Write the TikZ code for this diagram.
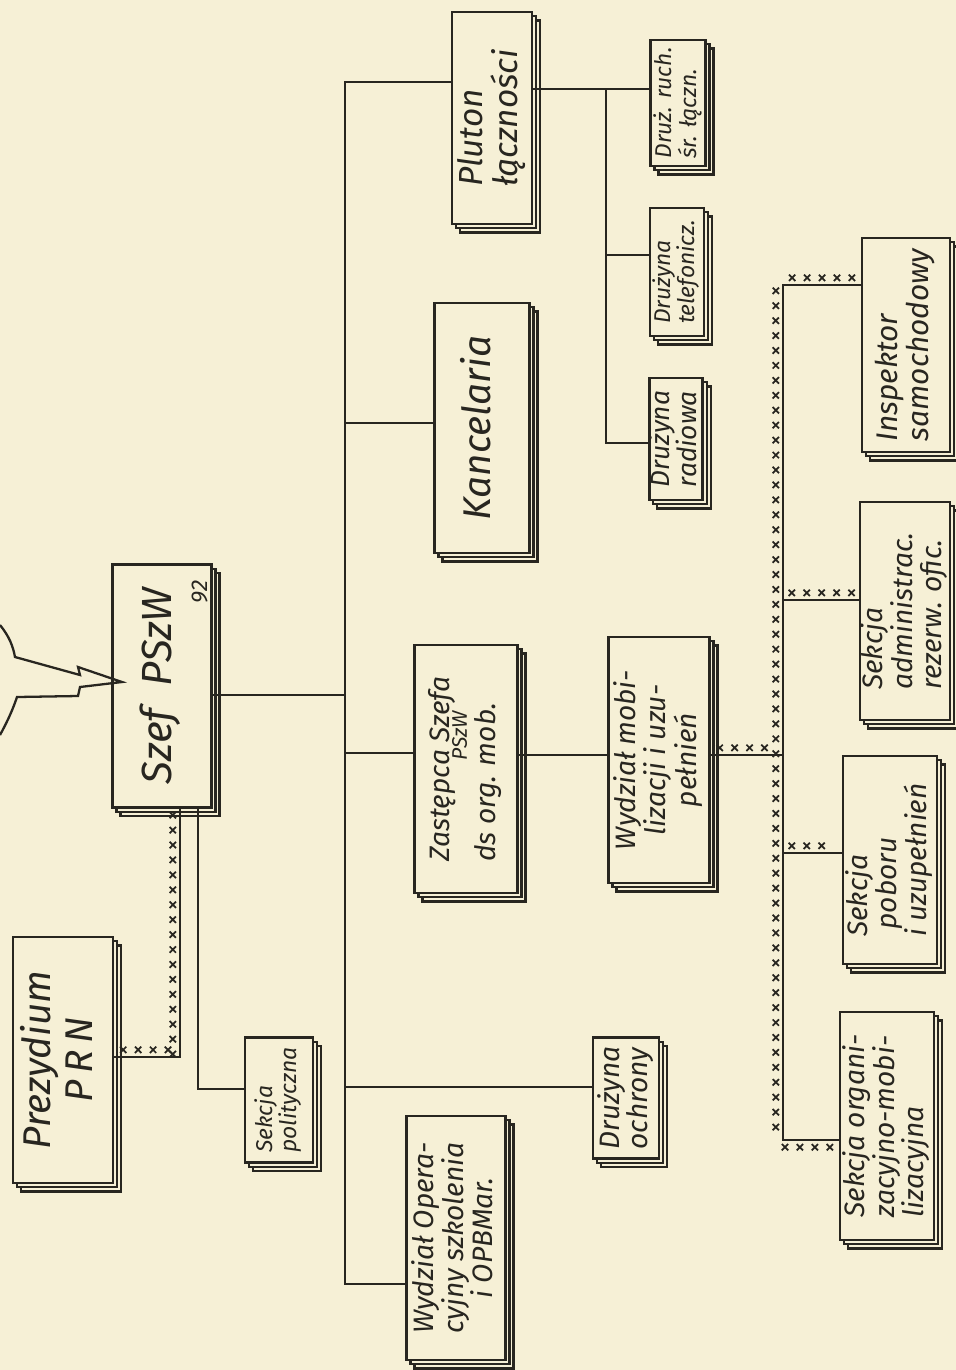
\documentclass[tikz,border=0pt]{standalone}
\usepackage{fontspec}
\setmainfont{Fira Sans}
\usetikzlibrary{shadows,decorations.markings}
\definecolor{paper}{RGB}{246,240,214}
\definecolor{ink}{RGB}{40,38,32}
\newcommand{\vlab}[2][c]{\rotatebox{90}{\begin{tabular}{@{}#1@{}}#2\end{tabular}}}

\begin{document}
\begin{tikzpicture}[x=0.02cm, y=-0.02cm, line width=1.6pt, color=ink,
    unit/.style 2 args={draw, fill=paper, inner sep=0pt,
        minimum width=#1*0.02cm, minimum height=#2*0.02cm,
        copy shadow={shadow xshift=0.16cm, shadow yshift=-0.17cm, fill=paper, draw=ink, line width=1.3pt},
        copy shadow={shadow xshift=0.08cm, shadow yshift=-0.085cm, fill=paper, draw=ink, line width=1.2pt}},
    big/.style={font=\itshape\fontsize{22}{24}\selectfont},
    mid/.style={font=\itshape\fontsize{16}{15}\selectfont},
    small/.style={font=\itshape\fontsize{13}{11.5}\selectfont},
    xline/.style={postaction={decorate, decoration={markings,
        mark=between positions 5pt and -3pt step 8.5pt with {\draw[line width=1pt] (-1.8pt,2.3pt) -- (1.8pt,5.9pt) (-1.8pt,5.9pt) -- (1.8pt,2.3pt);}}}}]
    \fill[paper] (0,0) rectangle (956,1370);
    \useasboundingbox (0,0) rectangle (956,1370);

    % units
    \node[unit={80}{212}, big, font=\itshape\fontsize{19}{17}\selectfont] (plut) at (492,118) {\vlab[l]{Pluton\\łączności}};
    \node[unit={95}{250}, big] (kanc) at (482,428) {\vlab{Kancelaria}};
    \node[unit={55}{126}, small] (druch) at (678,103) {\vlab[l]{Druż. ruch.\\śr. łączn.}};
    \node[unit={54}{128}, small] (dtel) at (677,272) {\vlab[l]{Drużyna\\telefonicz.}};
    \node[unit={52}{122}, small, font=\itshape\fontsize{15}{12}\selectfont] (drad) at (676,439) {\vlab[l]{Drużyna\\radiowa}};
    \node[unit={88}{214}, mid, font=\itshape\fontsize{17}{16}\selectfont] (insp) at (906,345) {\vlab[l]{Inspektor\\samochodowy}};
    \node[unit={90}{218}, mid] (sadm) at (905,611) {\vlab[l]{Sekcja\\administrac.\\rezerw. ofic.}};
    \node[unit={99}{243}, big, font=\itshape\fontsize{24}{24}\selectfont] (szef) at (162,686) {\vlab{Szef\ \ PSzW}};
    \node[font=\itshape\fontsize{13}{13}\selectfont, rotate=90] (pg) at (200,592) {92};
    \node[unit={103}{248}, mid] (zast) at (466,769) {\vlab[l]{Zastępca Szefa\\[-5pt]\hspace*{3.6em}{\fontsize{12}{12}\selectfont PSzW}\\ds org. mob.}};
    \node[unit={101}{246}, mid] (wmob) at (659,760) {\vlab{Wydział mobi-\\lizacji i uzu-\\pełnień}};
    \node[unit={94}{208}, mid] (spob) at (890,860) {\vlab[l]{Sekcja\\\ poboru\\i uzupełnień}};
    \node[unit={94}{228}, mid] (sorg) at (887,1126) {\vlab[l]{Sekcja organi-\\zacyjno-mobi-\\lizacyjna}};
    \node[unit={100}{246}, big] (prez) at (63,1060) {\vlab{Prezydium\\P\,R\,N}};
    \node[unit={68}{125}, small] (spol) at (279,1100) {\vlab[l]{Sekcja\\polityczna}};
    \node[unit={99}{244}, mid] (wop) at (456,1238) {\vlab{Wydział Opera-\\cyjny szkolenia\\i OPBMar.}};
    \node[unit={66}{121}, small, font=\itshape\fontsize{16}{13}\selectfont] (doch) at (626,1098) {\vlab[l]{Drużyna\\ochrony}};

    % main trunk
    \coordinate (top) at (345,82);
    \coordinate (bot) at (345,1284);
    \draw (plut.west |- top) -| (bot) -- (wop.west |- bot);
    \draw (szef.east |- 0,695) -- (top |- 0,695);
    \draw (top |- 0,423) -- (kanc.west |- 0,423);
    \draw (top |- 0,753) -- (zast.west |- 0,753);
    \draw (top |- 0,1087) -- (doch.west |- 0,1087);
    \draw (zast.east |- 0,755) -- (wmob.west |- 0,755);
    \draw (szef.south -| 198,0) |- (spol.west |- 0,1089);

    % pluton
    \coordinate (pl) at (606,89);
    \draw (plut.east |- pl) -- (druch.west |- pl);
    \draw (pl) |- (drad.west |- 0,443);
    \draw (pl |- 0,255) -- (dtel.west |- 0,255);

    % crossed lines
    \draw[xline] (prez.east |- 0,1057) -| (szef.south -| 180,0);
    \coordinate (xt) at (783,285);
    \coordinate (xb) at (783,1140);
    \draw[xline] (sorg.west |- xb) -- (xb) -- (xt) -- (insp.west |- xt);
    \draw[xline] (xt |- 0,600) -- (sadm.west |- 0,600);
    \draw[xline] (xt |- 0,853) -- (spob.west |- 0,853);
    \draw[xline] (wmob.east |- 0,755) -- (xt |- 0,755);

    % arrow into szef
    \draw[line width=1.3pt] (0,625) .. controls (9,636) and (13,646) .. (15,657) -- (80,675) -- (78,667) -- (122,682) -- (80,687) -- (78,696) -- (17,697) .. controls (12,712) and (6,724) .. (0,735);
\end{tikzpicture}
\end{document}
